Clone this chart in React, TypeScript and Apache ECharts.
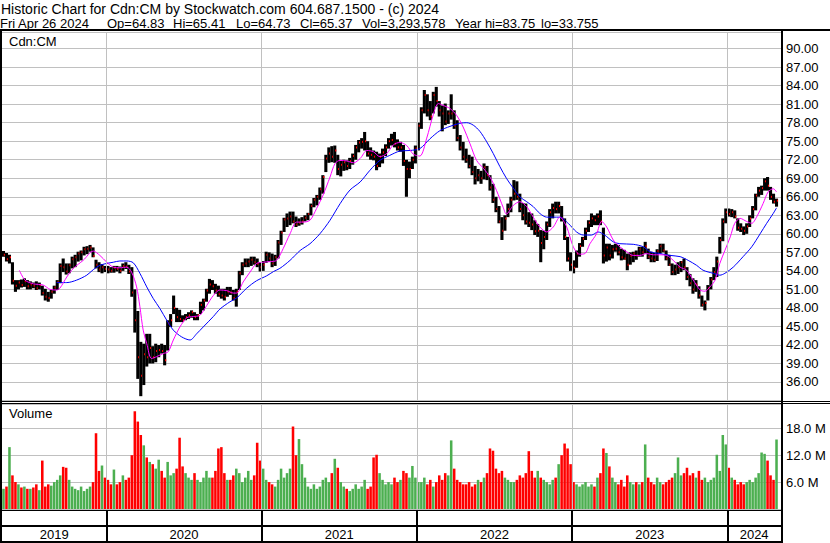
import React, { useEffect, useRef } from 'react';
import * as echarts from 'echarts';

// ---------- data (weekly) ----------
// each week: [low, high, close, volume in millions]
const yearLabels = ['2019', '2020', '2021', '2022', '2023', '2024'];

const weeks2019 = [
  [56.3, 57.2, 56.6, 4.5], [55.5, 56.9, 55.9, 5.0], [55.2, 56.6, 56.2, 13.8], [51.8, 55.4, 52.4, 7.5],
  [50.6, 52.5, 51.6, 6.0], [51.0, 52.5, 52.1, 5.5], [51.3, 52.6, 51.7, 4.8], [51.4, 52.8, 52.3, 5.0],
  [51.0, 52.5, 51.5, 4.5], [51.0, 52.3, 51.8, 4.5], [51.2, 52.1, 51.6, 4.8], [50.9, 52.3, 51.2, 5.5],
  [51.0, 52.1, 51.7, 4.2], [50.0, 51.6, 50.4, 10.8], [49.2, 51.1, 49.8, 5.0], [49.0, 50.6, 49.6, 5.5],
  [49.5, 50.9, 50.6, 5.2], [50.3, 51.6, 51.3, 6.0], [50.9, 52.5, 52.2, 6.5], [52.0, 55.2, 54.8, 7.5],
  [53.8, 56.0, 54.6, 9.4], [53.4, 55.2, 53.9, 9.2], [53.6, 55.2, 54.9, 6.5], [54.4, 56.3, 55.9, 5.0],
  [54.6, 56.6, 56.2, 4.5], [55.5, 57.1, 56.8, 4.2], [55.7, 57.3, 57.0, 5.0], [56.5, 57.9, 57.5, 4.0],
  [56.7, 58.0, 57.6, 4.5], [57.1, 58.2, 57.8, 5.0], [56.2, 57.8, 56.4, 6.0], [54.4, 55.8, 55.0, 16.9],
  [53.8, 55.4, 54.2, 8.5], [53.6, 55.1, 54.6, 9.7], [53.8, 54.8, 54.3, 7.0],
];
const weeks2020 = [
  [53.6, 54.8, 54.2, 6.5], [53.7, 54.6, 54.0, 5.5], [53.7, 54.8, 54.5, 8.8], [53.9, 54.8, 54.3, 5.5],
  [53.6, 54.7, 54.0, 6.0], [54.0, 55.2, 54.8, 7.5], [54.3, 55.4, 54.7, 6.5], [53.5, 55.0, 53.9, 7.0],
  [49.8, 54.6, 50.5, 12.0], [44.0, 51.0, 46.0, 21.8], [36.5, 47.5, 40.0, 19.5], [33.7, 42.5, 37.0, 16.5],
  [35.5, 42.2, 40.5, 14.2], [38.5, 43.8, 40.0, 11.5], [39.0, 43.8, 41.5, 10.5], [39.0, 41.8, 40.0, 10.0],
  [39.2, 42.2, 41.0, 9.0], [40.0, 42.0, 41.2, 11.0], [40.6, 42.2, 41.0, 8.5], [38.7, 42.0, 39.5, 7.0],
  [41.1, 46.0, 45.5, 10.5], [44.9, 47.0, 46.0, 7.5], [47.0, 50.0, 48.0, 8.0], [45.7, 48.0, 46.5, 9.0],
  [45.7, 47.7, 46.2, 15.9], [45.7, 46.8, 46.0, 9.5], [46.0, 47.0, 46.5, 8.0], [46.2, 47.3, 46.8, 7.0],
  [46.4, 47.6, 47.3, 6.5], [46.0, 47.3, 46.5, 8.0], [46.0, 47.0, 46.8, 6.5], [47.0, 49.0, 48.5, 6.0],
  [47.6, 49.5, 49.2, 7.0], [49.0, 51.1, 50.8, 8.5], [50.3, 52.7, 51.8, 7.0], [50.9, 52.5, 51.5, 7.0],
  [50.3, 51.9, 50.8, 8.5], [49.8, 51.6, 50.2, 13.5], [49.5, 51.1, 50.0, 13.8], [49.2, 51.1, 49.8, 8.0],
  [49.8, 51.4, 50.6, 6.5], [50.1, 51.4, 50.5, 6.5], [49.2, 50.9, 49.6, 7.5], [48.2, 51.1, 50.6, 9.0],
  [50.9, 54.0, 53.6, 8.0], [53.3, 55.4, 55.0, 6.0], [54.6, 56.0, 55.2, 7.0], [54.6, 56.0, 55.5, 8.5],
  [54.8, 56.3, 55.8, 6.5], [55.0, 56.3, 55.4, 7.5], [54.6, 56.0, 55.1, 14.8], [53.9, 55.4, 54.6, 10.8],
];
const weeks2021 = [
  [54.0, 55.6, 55.0, 9.0], [55.3, 57.1, 56.6, 6.5], [55.5, 57.0, 56.0, 6.0], [54.6, 56.8, 55.2, 5.5],
  [54.8, 56.6, 56.2, 5.0], [56.0, 59.0, 58.6, 6.5], [58.2, 60.5, 60.2, 9.0], [60.3, 62.6, 62.3, 7.0],
  [61.1, 63.3, 62.5, 8.0], [61.4, 63.6, 62.8, 9.0], [61.7, 63.6, 62.0, 18.4], [61.1, 62.8, 61.5, 12.0],
  [61.3, 62.5, 61.8, 15.6], [61.5, 62.7, 62.0, 10.0], [62.0, 63.0, 62.6, 7.0], [62.2, 63.4, 63.2, 5.0],
  [63.0, 64.9, 64.5, 4.5], [64.3, 65.8, 65.5, 5.5], [64.6, 66.3, 66.0, 4.5], [65.5, 67.5, 67.2, 5.0],
  [66.5, 69.5, 69.2, 6.5], [70.0, 72.8, 72.2, 7.0], [71.5, 74.0, 73.0, 6.0], [71.6, 74.2, 72.5, 8.0],
  [71.5, 74.3, 73.5, 11.2], [69.5, 72.8, 70.5, 9.2], [69.3, 71.8, 71.2, 6.0], [70.2, 72.0, 71.6, 5.0],
  [70.3, 71.9, 71.0, 4.5], [70.5, 72.3, 71.8, 4.0], [71.2, 73.0, 72.6, 4.5], [72.0, 74.4, 74.0, 5.5],
  [73.2, 75.2, 74.8, 4.5], [73.8, 75.5, 74.9, 5.0], [73.5, 76.5, 75.0, 6.5], [72.5, 75.0, 73.0, 4.5],
  [72.0, 74.0, 72.8, 5.0], [71.9, 73.5, 72.5, 11.5], [70.3, 73.3, 71.0, 12.1], [70.8, 73.0, 72.5, 8.0],
  [71.4, 73.8, 73.2, 6.5], [72.6, 74.5, 74.0, 5.5], [73.8, 75.5, 75.0, 6.0], [74.3, 76.2, 75.2, 5.5],
  [74.0, 76.5, 74.6, 7.0], [73.5, 75.3, 74.0, 6.0], [73.3, 74.9, 74.0, 6.5], [71.0, 74.4, 71.8, 8.5],
  [66.0, 72.0, 70.5, 8.0], [69.0, 71.7, 70.5, 7.0], [70.5, 72.5, 72.0, 9.6], [71.4, 74.3, 73.8, 7.0],
];
const weeks2022 = [
  [73.5, 78.0, 77.5, 6.0], [77.0, 80.5, 80.0, 6.0], [79.5, 83.3, 82.5, 7.0], [79.0, 82.6, 80.0, 5.5],
  [78.4, 81.5, 79.0, 6.5], [79.5, 83.0, 82.5, 5.0], [80.6, 83.8, 81.5, 6.0], [79.0, 81.5, 80.0, 7.5],
  [76.6, 80.8, 79.5, 6.5], [77.6, 81.1, 78.2, 8.0], [77.8, 80.0, 79.5, 7.5], [78.5, 82.6, 79.5, 15.3],
  [77.0, 80.0, 77.5, 9.0], [75.0, 78.4, 75.5, 6.5], [73.5, 76.0, 74.0, 6.0], [71.9, 74.9, 72.5, 5.5],
  [71.5, 73.8, 72.0, 5.5], [70.6, 72.8, 71.0, 6.0], [69.5, 72.5, 70.0, 5.0], [68.0, 71.0, 69.0, 5.5],
  [68.5, 70.5, 69.5, 6.5], [68.1, 70.2, 69.0, 6.0], [68.8, 71.4, 70.8, 7.0], [68.7, 71.0, 69.5, 8.0],
  [67.0, 69.5, 67.5, 13.5], [65.0, 68.1, 65.5, 13.0], [63.5, 66.0, 64.0, 9.0], [61.7, 64.5, 62.0, 8.0],
  [59.0, 62.7, 60.5, 8.5], [60.5, 63.0, 62.5, 7.0], [62.7, 64.9, 64.0, 6.5], [63.5, 66.0, 65.5, 6.0],
  [65.4, 68.7, 66.5, 6.0], [65.5, 68.5, 66.0, 6.5], [63.5, 66.5, 64.0, 7.5], [62.2, 65.0, 63.0, 7.0],
  [61.5, 64.9, 62.0, 8.0], [61.1, 63.5, 61.8, 12.9], [60.6, 63.3, 61.5, 8.5], [59.8, 62.2, 60.4, 7.0],
  [59.5, 61.6, 60.5, 8.5], [55.4, 60.6, 58.5, 7.0], [57.5, 60.5, 59.5, 6.5], [59.0, 62.0, 61.5, 6.0],
  [61.1, 64.0, 63.5, 5.5], [62.5, 64.9, 64.2, 6.5], [63.3, 65.2, 64.0, 7.0], [63.3, 65.2, 64.5, 10.0],
  [62.0, 64.5, 62.5, 12.0], [59.0, 62.5, 59.5, 14.6], [55.5, 59.5, 56.0, 13.5], [54.0, 57.0, 55.0, 10.0],
];
const weeks2023 = [
  [53.6, 55.7, 54.5, 6.0], [54.5, 57.3, 56.8, 5.5], [56.3, 58.5, 58.0, 5.0], [57.9, 59.5, 59.2, 5.5],
  [59.0, 61.0, 60.5, 6.0], [60.3, 62.2, 61.8, 5.0], [61.1, 63.3, 62.5, 5.5], [61.4, 63.0, 62.2, 5.0],
  [61.4, 63.3, 62.8, 7.0], [61.4, 63.8, 62.0, 8.0], [55.2, 61.0, 56.5, 13.5], [55.5, 58.4, 57.8, 12.5],
  [55.7, 58.4, 56.5, 9.5], [56.0, 58.2, 57.5, 7.0], [57.1, 58.4, 57.6, 6.0], [56.5, 58.2, 57.0, 5.5],
  [55.7, 57.6, 56.2, 6.5], [55.8, 57.4, 56.0, 5.0], [54.1, 56.8, 55.0, 7.5], [55.0, 57.0, 56.4, 6.0],
  [55.4, 57.1, 56.8, 5.5], [55.8, 57.3, 56.5, 6.0], [56.3, 57.9, 57.5, 5.5], [56.3, 57.9, 57.0, 6.0],
  [56.8, 58.7, 58.0, 14.4], [55.9, 57.6, 56.3, 7.0], [55.4, 57.1, 56.0, 6.0], [55.4, 56.9, 55.8, 5.5],
  [55.6, 57.5, 57.2, 7.0], [56.8, 58.4, 58.0, 6.0], [57.0, 58.4, 57.3, 5.5], [55.7, 57.3, 56.0, 6.0],
  [54.8, 56.6, 55.0, 6.5], [53.3, 55.2, 53.8, 7.0], [53.3, 55.0, 54.2, 8.0], [53.5, 55.4, 54.6, 11.5],
  [53.8, 55.6, 55.4, 7.5], [54.1, 56.0, 54.6, 8.0], [52.5, 54.6, 53.0, 9.2], [51.5, 53.5, 52.0, 7.5],
  [50.3, 52.8, 51.0, 8.0], [50.6, 52.5, 51.8, 7.0], [49.5, 51.5, 50.0, 8.5], [48.2, 50.0, 48.5, 6.5],
  [47.6, 49.2, 48.8, 7.0], [49.2, 51.7, 51.2, 6.0], [51.0, 53.0, 52.6, 6.5], [52.5, 54.6, 53.8, 7.0],
  [53.0, 56.3, 55.5, 12.1], [56.8, 59.5, 59.0, 8.5], [58.8, 62.5, 62.0, 16.5], [61.7, 64.1, 63.5, 14.4],
];
const weeks2024 = [
  [62.8, 64.1, 63.2, 9.2], [62.7, 64.0, 63.5, 7.0], [62.5, 63.8, 62.8, 6.5], [60.5, 62.5, 61.0, 5.5],
  [60.3, 61.7, 60.8, 6.0], [59.8, 61.2, 60.5, 5.5], [60.0, 61.7, 61.2, 6.0], [61.1, 63.0, 62.5, 6.5],
  [62.5, 64.5, 64.0, 6.0], [63.8, 66.5, 66.2, 7.0], [66.0, 67.6, 67.0, 8.0], [66.3, 67.8, 67.4, 12.6],
  [67.0, 69.0, 68.5, 12.3], [67.0, 69.2, 67.8, 10.8], [65.5, 67.6, 66.0, 7.5], [64.9, 66.5, 65.2, 6.5],
  [64.4, 65.7, 65.37, 15.5],
];

// moving averages: [week position, value]
const fastMA = [
  [5.8, 54.1], [7.7, 52.5], [10.5, 51.9], [13.8, 51.7], [16.1, 51.0], [18.3, 50.9], [19.4, 51.2], [21.7, 53.0],
  [23.9, 54.4], [27.2, 55.7], [30.6, 57.2], [32.8, 56.5], [35.1, 55.4], [37.3, 54.6], [39.5, 54.5], [41.8, 54.6],
  [43.4, 53.8], [45.1, 51.4], [46.2, 48.2], [47.3, 44.4], [48.5, 42.2], [50.1, 39.8], [51.8, 40.1], [54.0, 40.6],
  [55.7, 40.9], [57.4, 42.8], [59.6, 44.9], [61.9, 46.4], [64.1, 46.6], [66.3, 46.8], [68.6, 48.4], [70.8, 50.0],
  [73.0, 50.9], [75.3, 50.8], [77.5, 50.4], [78.6, 50.4], [80.8, 52.2], [83.1, 53.8], [85.3, 55.2], [87.5, 55.4],
  [89.8, 55.5], [92.0, 55.7], [94.2, 57.6], [96.5, 60.0], [98.7, 61.9], [100.9, 61.9], [103.2, 62.2], [105.4, 64.1],
  [107.6, 66.3], [109.9, 69.2], [111.6, 71.4], [113.3, 71.9], [115.5, 71.8], [117.8, 71.5], [120.0, 72.2], [122.3, 73.5],
  [124.4, 73.3], [126.6, 72.5], [128.9, 73.0], [131.1, 74.4], [133.3, 74.8], [135.6, 74.3], [137.8, 72.9], [140.0, 72.6],
  [142.3, 75.5], [144.5, 79.3], [146.2, 81.1], [147.8, 80.8], [150.1, 80.3], [152.3, 79.2], [154.5, 77.3], [156.8, 74.6],
  [159.0, 71.9], [161.3, 70.6], [163.5, 69.2], [165.7, 67.0], [167.9, 64.3], [169.0, 63.2], [171.3, 64.6], [173.5, 65.2],
  [175.8, 64.4], [178.0, 62.7], [180.2, 61.1], [182.5, 60.3], [184.7, 61.1], [186.9, 62.7], [189.2, 61.1], [191.4, 57.9],
  [193.5, 56.7], [195.3, 56.8], [197.0, 58.4], [199.2, 60.0], [200.9, 62.0], [202.6, 61.1], [204.8, 59.0], [207.0, 57.9],
  [209.3, 57.1], [211.5, 56.5], [213.7, 56.5], [216.0, 56.8], [218.2, 56.6], [220.4, 56.6], [222.7, 56.5], [224.9, 55.7],
  [227.2, 54.6], [229.4, 54.1], [231.6, 52.5], [233.9, 50.9], [235.5, 50.7], [237.2, 51.4], [238.9, 52.5], [240.5, 55.2],
  [242.2, 57.3], [244.0, 59.5], [245.5, 61.7], [247.3, 62.5], [249.5, 62.0], [251.2, 61.7], [252.8, 62.7], [255.0, 64.9],
  [256.7, 66.8], [258.4, 67.3], [259.5, 66.8],
];
const slowMA = [
  [18.3, 52.1], [21.7, 52.1], [25.0, 52.5], [28.4, 53.3], [30.6, 54.2], [32.8, 54.9], [35.1, 55.2], [37.3, 55.4],
  [39.5, 55.6], [41.8, 55.6], [44.0, 55.3], [46.2, 53.6], [48.5, 51.4], [50.7, 49.5], [52.9, 47.9], [55.2, 46.0],
  [57.4, 44.4], [60.2, 43.3], [63.0, 42.8], [65.2, 43.8], [67.4, 44.9], [70.8, 46.6], [73.0, 47.8], [76.4, 49.0],
  [78.6, 49.6], [82.0, 51.2], [85.3, 52.4], [88.7, 53.2], [91.0, 53.9], [93.1, 54.4], [96.5, 55.7], [99.9, 57.3],
  [103.2, 58.4], [106.5, 60.0], [109.9, 62.2], [113.3, 64.9], [116.6, 67.1], [120.0, 68.4], [123.3, 70.3], [126.6, 71.9],
  [129.9, 72.7], [133.3, 73.4], [136.7, 73.5], [140.0, 73.8], [143.4, 75.4], [146.7, 76.7], [150.1, 77.4], [153.4, 77.9],
  [155.7, 78.0], [157.9, 77.6], [160.1, 76.6], [162.4, 74.9], [164.6, 73.0], [166.8, 70.9], [169.0, 69.0], [171.3, 67.4],
  [173.5, 66.0], [175.8, 65.2], [178.0, 64.4], [180.2, 63.3], [182.5, 62.7], [184.7, 62.7], [186.9, 62.7], [189.7, 61.7],
  [192.5, 60.3], [194.8, 59.8], [197.5, 59.8], [199.7, 60.3], [201.9, 59.8], [204.8, 58.7], [207.0, 58.4], [211.5, 58.3],
  [214.9, 57.9], [217.1, 57.1], [220.4, 56.8], [223.8, 56.5], [227.2, 56.3], [229.9, 55.7], [232.7, 54.9], [234.9, 54.1],
  [238.3, 53.6], [240.5, 53.3], [242.2, 53.6], [245.0, 54.6], [248.3, 56.3], [251.2, 57.9], [254.0, 60.0], [256.2, 61.7],
  [258.4, 63.3], [259.5, 64.2],
];

const priceAxis = { min: 33, max: 92.69, step: 3 };
const volumeAxis = { min: 0, max: 23.42, step: 6 };

const headerTitle = 'Historic Chart for Cdn:CM by Stockwatch.com 604.687.1500 - (c) 2024';
const headerQuote = ['Fri Apr 26 2024', 'Op=64.83', 'Hi=65.41', 'Lo=64.73', 'Cl=65.37', 'Vol=3,293,578', 'Year hi=83.75', 'lo=33.755'];
const symbolLabel = 'Cdn:CM';
const volumeLabel = 'Volume';

// ---------- styling / layout ----------
const FONT = '"Liberation Sans", Arial, sans-serif';
const GRID_C = '#c0c0c0';
const UP_C = '#4caf50';
const DOWN_C = '#ff0000';
const quoteX = [0, 107, 173, 236, 300, 362, 455, 541];

const weeksByYear = [weeks2019, weeks2020, weeks2021, weeks2022, weeks2023, weeks2024];
const allWeeks = weeksByYear.flat();
const yearStarts: number[] = [];
{
  let acc = 0;
  for (const w of weeksByYear) { yearStarts.push(acc); acc += w.length; }
}
const totalWeeks = allWeeks.length;
const xMax = totalWeeks + 1;
const boundaries = yearStarts.slice(1);
const yearMids = yearStarts.map((s, i) => (s + (i + 1 < yearStarts.length ? yearStarts[i + 1] : xMax)) / 2);

const priceData = allWeeks.map((w, i) => [i + 0.5, w[0], w[1], w[2]]);
const volData = allWeeks.map((w, i) => [i + 0.5, w[3], i === 0 || w[2] >= allWeeks[i - 1][2] ? 1 : 0]);

function buildOption(): any {
  const grids = [
    { left: 2, top: 32, width: 779, height: 368.5 },
    { left: 2, top: 404, width: 779, height: 105 },
    { left: 2, top: 511, width: 779, height: 30 },
  ];
  const hiddenX = (gi: number) => ({
    type: 'value', gridIndex: gi, min: 0, max: xMax,
    axisLine: { show: false }, axisTick: { show: false }, axisLabel: { show: false }, splitLine: { show: false },
  });
  const yearMarks = {
    silent: true, symbol: ['none', 'none'], label: { show: false },
    lineStyle: { color: GRID_C, type: 'solid', width: 1 },
    data: boundaries.map((b) => ({ xAxis: b })),
  };
  const txt = (text: string, x: number, y: number, size = 13) => ({
    type: 'text', x, y,
    style: { text, fill: '#000', fontSize: size, fontFamily: FONT, verticalAlign: 'middle' },
  });
  const graphic: any[] = [
    { type: 'rect', shape: { x: 0, y: 29, width: 830, height: 2 }, style: { fill: '#000' } },
    { type: 'rect', shape: { x: 0, y: 31, width: 2, height: 512 }, style: { fill: '#000' } },
    { type: 'rect', shape: { x: 781, y: 31, width: 2, height: 512 }, style: { fill: '#000' } },
    { type: 'rect', shape: { x: 0, y: 401, width: 830, height: 1 }, style: { fill: '#000' } },
    { type: 'rect', shape: { x: 0, y: 403, width: 830, height: 1 }, style: { fill: '#000' } },
    { type: 'rect', shape: { x: 0, y: 509, width: 783, height: 2 }, style: { fill: '#000' } },
    { type: 'rect', shape: { x: 0, y: 525, width: 783, height: 2 }, style: { fill: '#000' } },
    { type: 'rect', shape: { x: 0, y: 541, width: 783, height: 2 }, style: { fill: '#000' } },
    txt(headerTitle, 1, 9, 14),
    ...headerQuote.map((t, i) => txt(t, quoteX[i], 23.5)),
    txt(symbolLabel, 9, 41),
    txt(volumeLabel, 9, 413.5),
  ];

  return {
    animation: false,
    backgroundColor: '#fff',
    grid: grids,
    xAxis: [
      hiddenX(0),
      hiddenX(1),
      {
        type: 'value', gridIndex: 2, min: 0, max: xMax, position: 'bottom',
        axisLine: { show: false },
        splitLine: { show: false },
        axisTick: { show: true, inside: true, length: 30, customValues: boundaries, lineStyle: { color: '#000', width: 2 } },
        axisLabel: {
          show: true, inside: true, margin: 7, verticalAlign: 'middle', customValues: yearMids,
          color: '#000', fontSize: 13, fontFamily: FONT,
          formatter: (v: number) => {
            let best = 0;
            yearMids.forEach((m, i) => { if (Math.abs(m - v) < Math.abs(yearMids[best] - v)) best = i; });
            return yearLabels[best];
          },
        },
      },
    ],
    yAxis: [
      {
        type: 'value', gridIndex: 0, position: 'right', min: priceAxis.min, max: priceAxis.max, interval: priceAxis.step,
        axisLine: { show: false }, axisTick: { show: false },
        axisLabel: {
          show: true, margin: 5, color: '#000', fontSize: 13, fontFamily: FONT,
          showMinLabel: false, showMaxLabel: false,
          formatter: (v: number) => v.toFixed(2),
        },
        splitLine: { show: true, lineStyle: { color: GRID_C, width: 1 } },
      },
      {
        type: 'value', gridIndex: 1, position: 'right', min: volumeAxis.min, max: volumeAxis.max, interval: volumeAxis.step,
        axisLine: { show: false }, axisTick: { show: false },
        axisLabel: {
          show: true, margin: 5, color: '#000', fontSize: 13, fontFamily: FONT,
          showMinLabel: false, showMaxLabel: false,
          formatter: (v: number) => (v === 0 ? '' : v.toFixed(1) + ' M'),
        },
        splitLine: { show: true, lineStyle: { color: GRID_C, width: 1 } },
      },
      { type: 'value', gridIndex: 2, min: 0, max: 1, show: false },
    ],
    graphic,
    series: [
      { type: 'line', xAxisIndex: 0, yAxisIndex: 0, data: [], z: 1, markLine: yearMarks },
      { type: 'line', xAxisIndex: 1, yAxisIndex: 1, data: [], z: 1, markLine: yearMarks },
      {
        type: 'custom', xAxisIndex: 0, yAxisIndex: 0, z: 3, data: priceData,
        encode: { x: 0, y: [1, 2, 3] },
        renderItem: (params: any, api: any) => {
          const x = api.value(0);
          const lo = api.coord([x, api.value(1)]);
          const hi = api.coord([x, api.value(2)]);
          const cl = api.coord([x, api.value(3)]);
          const w = api.size([1, 0])[0];
          const bw = w + 0.1;
          return {
            type: 'group',
            children: [
              { type: 'rect', shape: { x: lo[0] - bw / 2, y: hi[1], width: bw, height: Math.max(1, lo[1] - hi[1]) }, style: { fill: '#000' } },
              { type: 'rect', shape: { x: cl[0] + bw / 2 - 1.2, y: cl[1] - 1, width: 1.2, height: 2 }, style: { fill: DOWN_C } },
            ],
          };
        },
      },
      {
        type: 'line', xAxisIndex: 0, yAxisIndex: 0, z: 4, data: slowMA, showSymbol: false, smooth: 0.3,
        lineStyle: { color: '#0000ff', width: 1 },
      },
      {
        type: 'line', xAxisIndex: 0, yAxisIndex: 0, z: 4, data: fastMA, showSymbol: false, smooth: 0.3,
        lineStyle: { color: '#ff00ff', width: 1 },
      },
      {
        type: 'custom', xAxisIndex: 1, yAxisIndex: 1, z: 3, data: volData,
        encode: { x: 0, y: 1 },
        renderItem: (params: any, api: any) => {
          const x = api.value(0);
          const top = api.coord([x, api.value(1)]);
          const base = api.coord([x, 0]);
          const w = api.size([1, 0])[0];
          const bw = w * 0.85;
          return {
            type: 'rect',
            shape: { x: top[0] - bw / 2, y: top[1], width: bw, height: base[1] - top[1] },
            style: { fill: api.value(2) === 1 ? UP_C : DOWN_C },
          };
        },
      },
    ],
  };
}

export default function App() {
  const ref = useRef<HTMLDivElement>(null);
  useEffect(() => {
    if (!ref.current) return;
    const chart = echarts.init(ref.current, null, { renderer: 'svg' });
    chart.setOption(buildOption());
    return () => chart.dispose();
  }, []);
  return <div ref={ref} style={{ position: 'fixed', left: 0, top: 0, width: 830, height: 543, background: '#fff' }} />;
}
